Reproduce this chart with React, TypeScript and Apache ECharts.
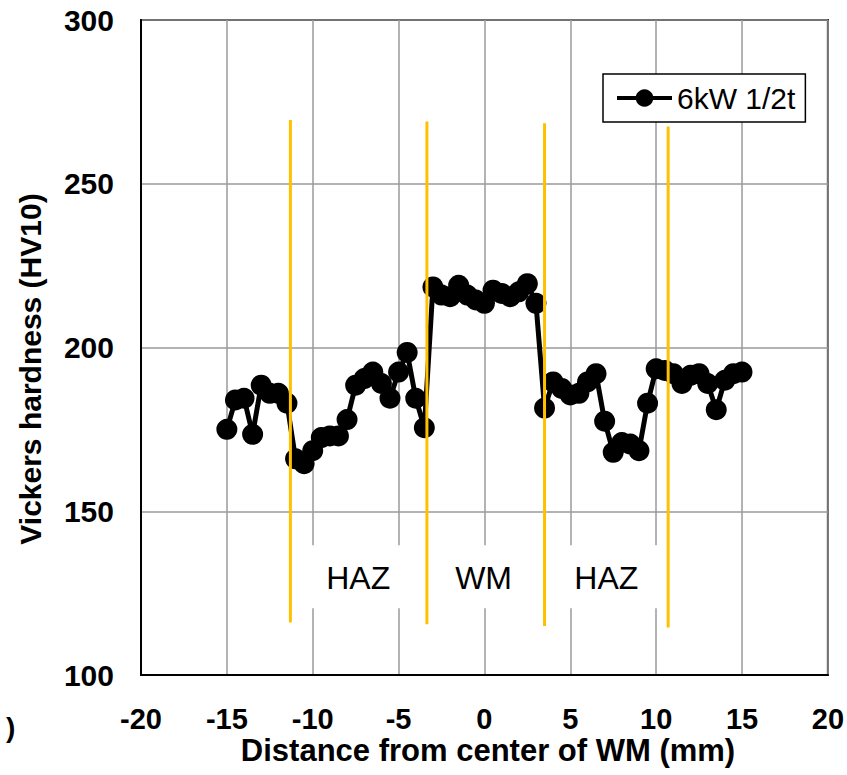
import React, { useEffect, useRef } from "react";
import * as echarts from "echarts";

const seriesName = "6kW 1/2t";
const distance = [
  -15, -14.5, -14, -13.5, -13, -12.5, -12, -11.5, -11, -10.5, -10, -9.5, -9, -8.5, -8, -7.5, -7, -6.5, -6, -5.5, -5, -4.5, -4, -3.5,
  -3, -2.5, -2, -1.5, -1, -0.5, 0, 0.5, 1, 1.5, 2, 2.5, 3,
  3.5, 4, 4.5, 5, 5.5, 6, 6.5, 7, 7.5, 8, 8.5, 9, 9.5, 10, 10.5, 11, 11.5, 12, 12.5, 13, 13.5, 14, 14.5, 15,
];
const hardness = [
  175, 184, 184.5, 173.5, 188.5, 186, 186, 183, 166, 164.5, 168.5, 172.5, 173, 173, 178, 188.5, 190.5, 192.5, 189, 184.5, 192.5, 198.5, 184.5, 175.5,
  218.5, 216, 215.5, 219, 216, 214.5, 213.5, 217.5, 216.5, 215.5, 217, 219.5, 213.5,
  181.5, 189.5, 187.5, 185.5, 186, 189.5, 192, 177.5, 168, 171, 170.5, 168.5, 183, 193.5, 193, 192, 189, 191.5, 192, 189, 181, 190, 192, 192.5,
];

const boundaryX = [-11.3, -3.35, 3.5, 10.7];
const boundaryTop = [269.5, 269, 268.5, 267.5];
const boundaryBottom = [116, 115.5, 115, 114.5];

const zoneLabels = ["HAZ", "WM", "HAZ"];
const zoneX = [-7.35, -0.05, 7.1];
const zoneY = 129.5;

const xTicks = { min: -20, max: 20, interval: 5 };
const yTicks = { min: 100, max: 300, interval: 50 };

const FONT = "'Liberation Sans', Arial, sans-serif";

export default function App() {
  const ref = useRef<HTMLDivElement>(null);
  useEffect(() => {
    if (!ref.current) return;
    const chart = echarts.init(ref.current, undefined, { renderer: "svg" });
    const boundarySeries = boundaryX.map((x, i) => ({
      type: "line",
      name: "boundary" + i,
      data: [
        [x, boundaryTop[i]],
        [x, boundaryBottom[i]],
      ],
      showSymbol: false,
      symbol: "none",
      silent: true,
      z: 4,
      lineStyle: { color: "#FFC000", width: 3 },
    }));
    chart.setOption({
      animation: false,
      backgroundColor: "#fff",
      grid: {
        left: 141,
        right: 15,
        top: 20,
        bottom: 100,
        show: true,
        borderColor: "#000",
        borderWidth: 2,
        backgroundColor: "transparent",
      },
      legend: {
        data: [seriesName],
        left: 603,
        top: 74,
        padding: [9, 10, 9, 12],
        itemWidth: 55,
        itemHeight: 22,
        itemGap: 5,
        backgroundColor: "#fff",
        borderColor: "#000",
        borderWidth: 1.5,
        borderRadius: 0,
        lineStyle: { width: 4, color: "#000" },
        textStyle: { fontSize: 30, color: "#000", fontFamily: FONT },
        z: 10,
      },
      xAxis: {
        type: "value",
        min: xTicks.min,
        max: xTicks.max,
        interval: xTicks.interval,
        axisLine: { show: true, onZero: false, lineStyle: { color: "#000", width: 2 } },
        axisTick: { show: false },
        splitLine: { show: true, lineStyle: { color: "#9a9a9a", width: 1.5 } },
        axisLabel: { fontSize: 29, fontWeight: "bold", color: "#000", fontFamily: FONT, margin: 29 },
      },
      yAxis: {
        type: "value",
        min: yTicks.min,
        max: yTicks.max,
        interval: yTicks.interval,
        axisLine: { show: true, onZero: false, lineStyle: { color: "#000", width: 2 } },
        axisTick: { show: false },
        splitLine: { show: true, lineStyle: { color: "#9a9a9a", width: 1.5 } },
        axisLabel: { fontSize: 30, fontWeight: "bold", color: "#000", fontFamily: FONT, margin: 27 },
      },
      series: [
        {
          type: "line",
          name: seriesName,
          data: distance.map((d, i) => [d, hardness[i]]),
          symbol: "circle",
          symbolSize: 21,
          z: 3,
          itemStyle: { color: "#000" },
          lineStyle: { color: "#000", width: 5 },
        },
        ...boundarySeries,
      ],
    });
    const toPx = (x: number, y: number) => chart.convertToPixel({ gridIndex: 0 }, [x, y]) as number[];
    const p1 = toPx(-10.78, 139.6);
    const p2 = toPx(10.54, 120.4);
    const zoneTexts = zoneLabels.map((t, i) => {
      const p = toPx(zoneX[i], zoneY);
      return {
        type: "text",
        x: p[0],
        y: p[1],
        z: 2,
        silent: true,
        style: {
          text: t,
          font: "32px " + FONT,
          fill: "#000",
          textAlign: "center",
          textVerticalAlign: "middle",
        },
      };
    });
    chart.setOption({
      graphic: [
        {
          type: "rect",
          shape: { x: p1[0], y: p1[1], width: p2[0] - p1[0], height: p2[1] - p1[1] },
          style: { fill: "#fff" },
          z: 1,
          silent: true,
        },
        ...zoneTexts,
        {
          type: "text",
          x: 30,
          y: 369,
          rotation: Math.PI / 2,
          style: {
            text: "Vickers hardness (HV10)",
            font: "bold 30px " + FONT,
            fill: "#000",
            textAlign: "center",
            textVerticalAlign: "middle",
          },
        },
        {
          type: "text",
          x: 488,
          y: 750,
          style: {
            text: "Distance from center of WM (mm)",
            font: "bold 31px " + FONT,
            fill: "#000",
            textAlign: "center",
            textVerticalAlign: "middle",
          },
        },
        {
          type: "text",
          x: 6,
          y: 727,
          style: {
            text: ")",
            font: "bold 28px " + FONT,
            fill: "#000",
            textAlign: "left",
            textVerticalAlign: "middle",
          },
        },
      ],
    });
    return () => chart.dispose();
  }, []);
  return <div ref={ref} style={{ width: 847, height: 775, position: "absolute", left: 0, top: 0 }} />;
}
